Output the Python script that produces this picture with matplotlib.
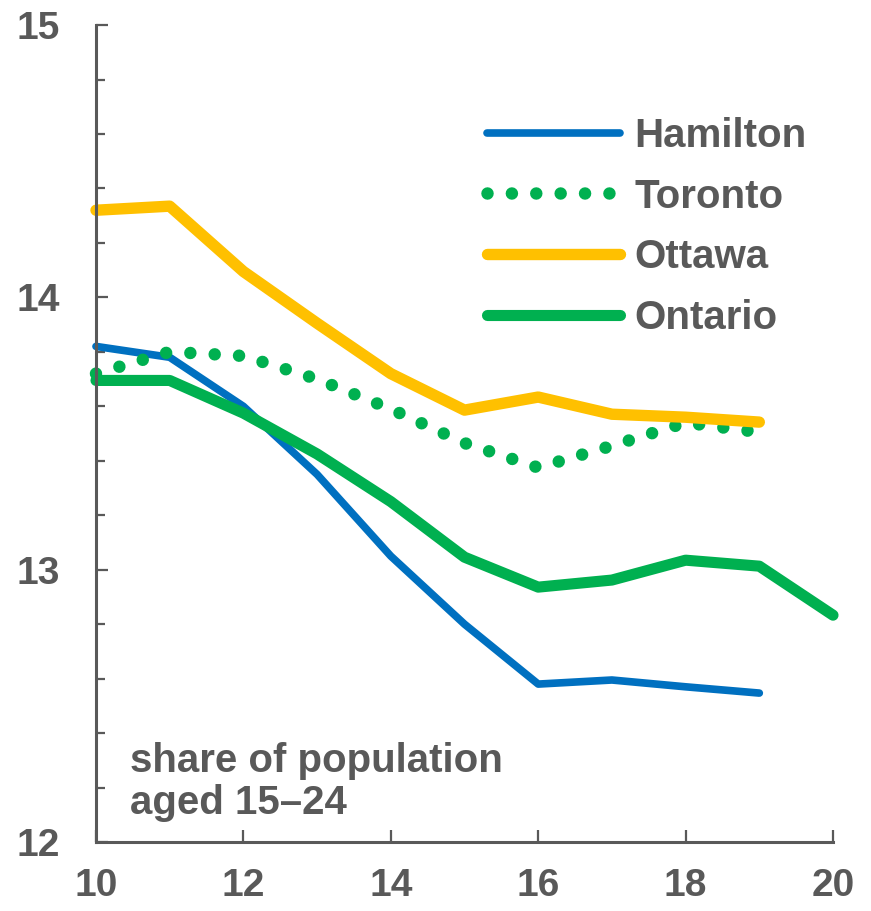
import matplotlib
matplotlib.use("Agg")
import matplotlib.pyplot as plt
from matplotlib.ticker import MultipleLocator

years = [10, 11, 12, 13, 14, 15, 16, 17, 18, 19, 20]
hamilton = [13.82, 13.78, 13.60, 13.35, 13.05, 12.80, 12.58, 12.595, 12.57, 12.547]
toronto = [13.72, 13.80, 13.785, 13.70, 13.59, 13.465, 13.375, 13.455, 13.54, 13.505]
ottawa = [14.32, 14.335, 14.095, 13.905, 13.72, 13.586, 13.634, 13.571, 13.56, 13.542]
ontario = [13.695, 13.695, 13.575, 13.425, 13.25, 13.046, 12.936, 12.962, 13.035, 13.013, 12.833]
xticks = [10, 12, 14, 16, 18, 20]
yticks = [12, 13, 14, 15]

GRAY = "#595959"
plt.rcParams["font.family"] = ["Liberation Sans", "DejaVu Sans"]
plt.rcParams["font.weight"] = "bold"

fig = plt.figure(figsize=(8.71, 9.11), dpi=100)
ax = fig.add_axes([0.1102, 0.0757, 0.8462, 0.8968])

ax.plot(years[:len(hamilton)], hamilton, color="#0070C0", lw=5.5,
        solid_capstyle="round", solid_joinstyle="round", label="Hamilton", clip_on=False)
ax.plot(years[:len(toronto)], toronto, color="#00B050", lw=9.0,
        linestyle=(0, (0.001, 1.95)), dash_capstyle="round", label="Toronto", clip_on=False)
ax.plot(years[:len(ottawa)], ottawa, color="#FFC000", lw=8.2,
        solid_capstyle="round", solid_joinstyle="round", label="Ottawa", clip_on=False)
ax.plot(years[:len(ontario)], ontario, color="#00B050", lw=8.0,
        solid_capstyle="round", solid_joinstyle="round", label="Ontario", clip_on=False)

ax.set_xlim(10, 20)
ax.set_ylim(12, 15)
ax.set_xticks(xticks)
ax.set_xticklabels([str(t) for t in xticks])
ax.set_yticks(yticks)
ax.set_yticklabels([str(t) for t in yticks])
ax.yaxis.set_minor_locator(MultipleLocator(0.2))

for s in ["top", "right"]:
    ax.spines[s].set_visible(False)
for s in ["left", "bottom"]:
    ax.spines[s].set_color(GRAY)
    ax.spines[s].set_linewidth(2.2)

ax.tick_params(axis="both", which="major", direction="in", length=8.5, width=1.6,
               color=GRAY, labelcolor=GRAY, labelsize=28)
ax.tick_params(axis="y", which="minor", direction="in", length=6.5, width=1.6, color=GRAY)
ax.tick_params(axis="y", which="major", pad=26)
ax.tick_params(axis="x", which="major", pad=19)
for lab in ax.get_xticklabels() + ax.get_yticklabels():
    lab.set_fontweight("bold")

leg = ax.legend(loc="upper left", bbox_to_anchor=(487 / 871, 1 - 117 / 911),
                bbox_transform=fig.transFigure, frameon=False, fontsize=29,
                handlelength=3.3, handletextpad=0.36, labelspacing=0.56,
                borderpad=0, borderaxespad=0)
for t in leg.get_texts():
    t.set_color(GRAY)
    t.set_fontweight("bold")

ax.text(0.046, 0.122, "share of population\naged 15\u201324", transform=ax.transAxes,
        ha="left", va="top", fontsize=29, color=GRAY, fontweight="bold", linespacing=1.12)

fig.savefig("out.png", dpi=100)
